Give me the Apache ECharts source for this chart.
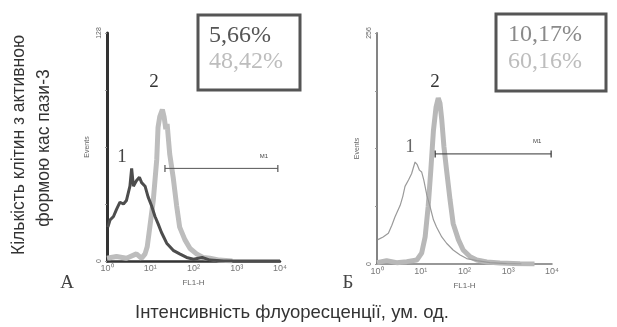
<!DOCTYPE html>
<html><head><meta charset="utf-8">
<script src="https://cdn.jsdelivr.net/npm/echarts@6/dist/echarts.min.js"></script>
<style>html,body{margin:0;padding:0;background:#fff}#c{width:617px;height:327px}</style>
</head><body><div id="c"></div>
<script>
// x = log10 decade of FL1-H, y = events
const tickLabels = ['10\u2070','10\u00b9','10\u00b2','10\u00b3','10\u2074'];
const yMaxA = 128, yMaxB = 256;
const seriesA1 = [[0.02,19],[0.07,23],[0.15,25],[0.22,29],[0.30,33],[0.38,32],[0.45,34],[0.53,42],[0.57,52],[0.61,42],[0.68,45],[0.75,47],[0.80,44],[0.88,42],[0.95,36],[1.03,31],[1.11,25],[1.18,21],[1.26,16],[1.38,10],[1.53,6],[1.68,4],[1.84,2],[2.0,1],[2.2,2],[2.38,0.5],[2.7,0],[4,0]];
const seriesA2 = [[0.0,1.5],[0.22,2.5],[0.45,1.5],[0.68,4],[0.8,1.5],[0.88,4],[0.93,8],[0.99,19],[1.07,34],[1.15,57],[1.18,75],[1.22,81],[1.28,85],[1.32,81],[1.36,74],[1.39,77],[1.45,60],[1.53,47],[1.61,31],[1.68,19],[1.8,12],[1.92,7],[2.07,4],[2.22,2],[2.38,1.5],[2.6,0.5],[2.9,0]];
const seriesB1 = [[0.02,27],[0.14,30],[0.26,34],[0.34,43],[0.41,52],[0.45,54],[0.53,65],[0.59,75],[0.64,86],[0.72,93],[0.79,100],[0.87,113],[0.92,110],[0.97,104],[1.02,102],[1.07,93],[1.14,76],[1.21,64],[1.29,49],[1.36,41],[1.48,30],[1.59,23],[1.74,15.5],[1.90,10],[2.05,6],[2.28,3.7],[2.58,1.5],[2.96,0.4],[3.3,0]];
const seriesB2 = [[0.0,1.5],[0.22,3.7],[0.45,1.5],[0.68,2.6],[0.91,4.4],[1.02,12],[1.10,30],[1.17,64],[1.23,104],[1.29,148],[1.35,174],[1.40,184],[1.44,178],[1.48,160],[1.53,130],[1.59,104],[1.67,71],[1.74,45],[1.86,27],[1.97,15.5],[2.13,8],[2.28,4.4],[2.51,2.2],[2.81,1.1],[3.27,0.4],[3.6,0]];
const markerA = [[1.34,52],[3.95,52]];
const markerB = [[1.33,122],[3.98,122]];
const percentA = ['5,66%','48,42%'];
const percentB = ['10,17%','60,16%'];
const panelLetters = ['А','Б'];
const curveNames = ['1','2'];
const yTitle = ['Кількість клітин з активною','формою кас пази-3'];
const xTitle = 'Інтенсивність флуоресценції, ум. од.';

const chart = echarts.init(document.getElementById('c'));
function xAxisCfg(gi, color, w){
  return {type:'value', gridIndex:gi, min:0, max:4, interval:1,
    name:'FL1-H', nameLocation:'middle', nameGap:18, nameTextStyle:{fontSize:8, color:'#666', fontFamily:'Liberation Sans'},
    axisLine:{lineStyle:{color:color, width:w}}, axisTick:{show:false}, splitLine:{show:false},
    axisLabel:{fontSize:9, color:'#777', margin:3, fontFamily:'Liberation Sans', formatter:(v)=>tickLabels[Math.round(v)]}};
}
function yAxisCfg(gi, max, color, w){
  return {type:'value', gridIndex:gi, min:0, max:max, interval:max/4,
    name:'Events', nameLocation:'middle', nameGap:16, nameRotate:90, nameTextStyle:{fontSize:7, color:'#666', fontFamily:'Liberation Sans'},
    axisLine:{show:true, lineStyle:{color:color, width:w}}, axisTick:{show:true, length:2, lineStyle:{color:'#999'}}, splitLine:{show:false},
    axisLabel:{fontSize:7, color:'#666', rotate:90, margin:4, fontFamily:'Liberation Sans', formatter:(v)=> (v===0||v===max)? String(v):''}};
}
function marker(xi, data, color){
  return {type:'line', xAxisIndex:xi, yAxisIndex:xi, data:data, symbol:'rect', symbolSize:[1.2,7], silent:true,
    lineStyle:{color:color, width:1}, itemStyle:{color:color},
    label:{show:true, formatter:(p)=> p.dataIndex===1?'M1':'', position:'top', offset:[-14,-1], fontSize:6, color:'#444'}, z:5};
}
chart.setOption({
  animation:false,
  grid:[{left:107, top:33, width:173, height:228},{left:377, top:33, width:175, height:231}],
  xAxis:[xAxisCfg(0,'#333',2.5), xAxisCfg(1,'#777',1.5)],
  yAxis:[yAxisCfg(0,yMaxA,'#333',3), yAxisCfg(1,yMaxB,'#777',1.8)],
  series:[
    {type:'line', xAxisIndex:0, yAxisIndex:0, data:seriesA2, showSymbol:false, lineStyle:{color:'#bdbdbd', width:5}, z:2},
    {type:'line', xAxisIndex:0, yAxisIndex:0, data:seriesA1, showSymbol:false, lineStyle:{color:'#4d4d4d', width:3}, z:3},
    {type:'line', xAxisIndex:1, yAxisIndex:1, data:seriesB2, showSymbol:false, lineStyle:{color:'#b8b8b8', width:5}, z:2},
    {type:'line', xAxisIndex:1, yAxisIndex:1, data:seriesB1, showSymbol:false, lineStyle:{color:'#9a9a9a', width:1.2}, z:3},
    marker(0, markerA, '#555'),
    marker(1, markerB, '#333')
  ],
  graphic:[
    {type:'rect', shape:{x:198, y:15, width:102, height:75}, style:{fill:'#fff', stroke:'#555', lineWidth:3}},
    {type:'text', x:209, y:48, style:{text:percentA[0], font:'24px "Liberation Serif"', fill:'#555', textVerticalAlign:'bottom'}},
    {type:'text', x:209, y:74, style:{text:percentA[1], font:'24px "Liberation Serif"', fill:'#bdbdbd', textVerticalAlign:'bottom'}},
    {type:'rect', shape:{x:496, y:14, width:110, height:77}, style:{fill:'#fff', stroke:'#555', lineWidth:3}},
    {type:'text', x:508, y:47, style:{text:percentB[0], font:'24px "Liberation Serif"', fill:'#8a8a8a', textVerticalAlign:'bottom'}},
    {type:'text', x:508, y:74, style:{text:percentB[1], font:'24px "Liberation Serif"', fill:'#bdbdbd', textVerticalAlign:'bottom'}},
    {type:'text', x:122, y:157, style:{text:curveNames[0], font:'19px "Liberation Serif"', fill:'#444', textAlign:'center', textVerticalAlign:'middle'}},
    {type:'text', x:154, y:82, style:{text:curveNames[1], font:'19px "Liberation Serif"', fill:'#333', textAlign:'center', textVerticalAlign:'middle'}},
    {type:'text', x:410, y:147, style:{text:curveNames[0], font:'19px "Liberation Serif"', fill:'#666', textAlign:'center', textVerticalAlign:'middle'}},
    {type:'text', x:435, y:82, style:{text:curveNames[1], font:'19px "Liberation Serif"', fill:'#333', textAlign:'center', textVerticalAlign:'middle'}},
    {type:'text', x:67, y:283, style:{text:panelLetters[0], font:'19px "Liberation Serif"', fill:'#444', textAlign:'center', textVerticalAlign:'middle'}},
    {type:'text', x:348, y:283, style:{text:panelLetters[1], font:'19px "Liberation Serif"', fill:'#444', textAlign:'center', textVerticalAlign:'middle'}},
    {type:'text', x:19, y:145, rotation:Math.PI/2, style:{text:yTitle[0], font:'17.5px "Liberation Sans"', fill:'#333', textAlign:'center', textVerticalAlign:'middle'}},
    {type:'text', x:44, y:148, rotation:Math.PI/2, style:{text:yTitle[1], font:'17.5px "Liberation Sans"', fill:'#333', textAlign:'center', textVerticalAlign:'middle'}},
    {type:'text', x:292, y:313, style:{text:xTitle, font:'18.5px "Liberation Sans"', fill:'#333', textAlign:'center', textVerticalAlign:'middle'}}
  ]
});
</script></body></html>
